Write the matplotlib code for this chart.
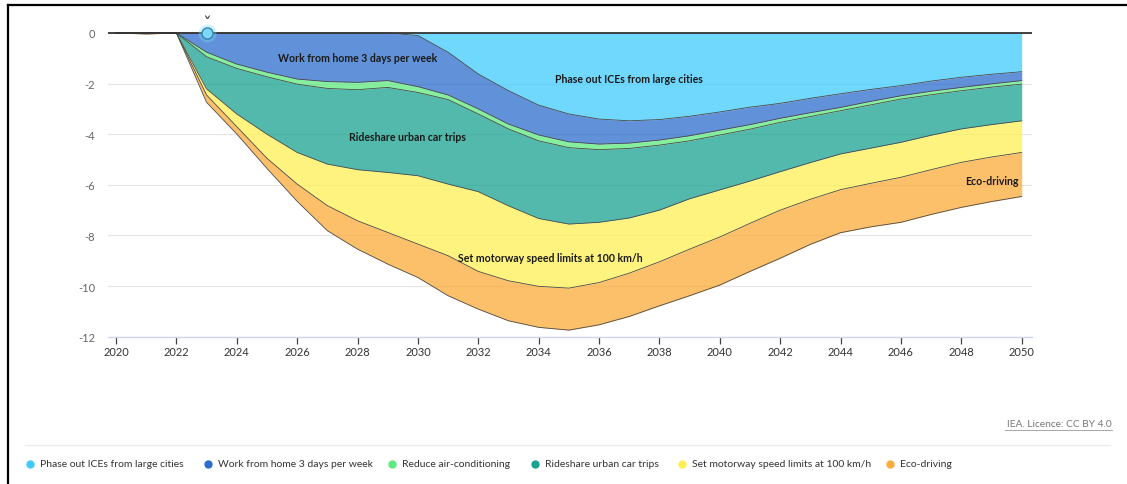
import numpy as np
import matplotlib
matplotlib.use("Agg")
import matplotlib.pyplot as plt
from matplotlib.lines import Line2D

plt.rcParams["font.family"] = ["Lato", "DejaVu Sans"]

# ── data ──────────────────────────────────────────────────────────────────────
YEARS = list(range(2020, 2051))

ICE = [0, 0, 0, 0, 0, 0, 0, 0, 0, 0,
       -0.10, -0.76, -1.62, -2.28, -2.85, -3.20, -3.40, -3.47, -3.42, -3.29,
       -3.12, -2.93, -2.78, -2.58, -2.40, -2.23, -2.08, -1.90, -1.75, -1.63, -1.53]
WFH = [0, 0, 0, -0.76, -1.23, -1.55, -1.82, -1.92, -1.95, -1.88,
       -2.02, -1.69, -1.38, -1.32, -1.18, -1.10, -0.99, -0.88, -0.81, -0.77,
       -0.72, -0.69, -0.59, -0.57, -0.54, -0.47, -0.40, -0.40, -0.40, -0.38, -0.35]
AIRCON = [0, 0, 0, -0.18, -0.17, -0.18, -0.20, -0.27, -0.29, -0.27,
          -0.23, -0.18, -0.20, -0.19, -0.23, -0.23, -0.22, -0.21, -0.20, -0.20,
          -0.19, -0.18, -0.16, -0.15, -0.13, -0.14, -0.13, -0.14, -0.13, -0.13, -0.14]
RIDESHARE = [0, 0, 0, -1.27, -1.80, -2.27, -2.70, -2.99, -3.16, -3.36,
             -3.29, -3.34, -3.07, -3.04, -3.07, -3.02, -2.87, -2.75, -2.57, -2.29,
             -2.17, -2.05, -1.95, -1.82, -1.71, -1.71, -1.71, -1.60, -1.51, -1.48, -1.45]
SPEED = [0, 0, 0, -0.24, -0.50, -0.95, -1.25, -1.64, -2.02, -2.37,
         -2.70, -2.83, -3.15, -2.96, -2.68, -2.53, -2.38, -2.18, -2.04, -1.99,
         -1.86, -1.67, -1.52, -1.45, -1.41, -1.39, -1.38, -1.36, -1.32, -1.28, -1.25]
ECO = [0, -0.04, 0, -0.29, -0.29, -0.40, -0.68, -0.99, -1.12, -1.25,
       -1.32, -1.58, -1.49, -1.58, -1.62, -1.66, -1.67, -1.71, -1.74, -1.84,
       -1.90, -1.90, -1.90, -1.78, -1.70, -1.72, -1.78, -1.77, -1.78, -1.76, -1.74]

SERIES = ["Phase out ICEs from large cities", "Work from home 3 days per week",
          "Reduce air-conditioning", "Rideshare urban car trips",
          "Set motorway speed limits at 100 km/h", "Eco-driving"]
COLORS = ["#40CBFD", "#2C6CCC", "#5EEA7E", "#18A290", "#FEF053", "#FCAB38"]

# in-chart labels: (series index, year, value)
AREA_LABELS = [(1, 2028.0, -0.95), (0, 2037.0, -1.78), (3, 2029.67, -4.07),
               (4, 2034.38, -8.87), (5, 2049.0, -5.81)]

Y_TICKS = [0, -2, -4, -6, -8, -10, -12]
X_TICKS = list(range(2020, 2051, 2))

# ── figure ────────────────────────────────────────────────────────────────────
W, H = 1127, 485
fig = plt.figure(figsize=(W / 100, H / 100), dpi=100)
ax = fig.add_axes([108 / W, 0.3037, 924 / W, 0.6523])

years = np.array(YEARS)
stack = np.vstack([ICE, WFH, AIRCON, RIDESHARE, SPEED, ECO])
tops = np.vstack([np.zeros(len(YEARS)), np.cumsum(stack, axis=0)[:-1]])
bottoms = np.cumsum(stack, axis=0)

for i in range(len(SERIES)):
    ax.fill_between(years, tops[i], bottoms[i], color=COLORS[i], alpha=0.75,
                    linewidth=0, zorder=2)
    ax.plot(years, bottoms[i], color="#4a4a4a", linewidth=0.6, zorder=3)

ax.axhline(0, color="#333333", linewidth=1.3, zorder=4)

for idx, x, y in AREA_LABELS:
    ax.text(x, y, SERIES[idx], ha="center", va="center", fontsize=7.6,
            fontweight="bold", color="#1a1a1a", zorder=5)

# hover marker at 2023
hx = YEARS.index(2023)
ax.plot([YEARS[hx]], [ICE[hx]], "o", ms=13, color="#7fd6f5", alpha=0.35,
        zorder=5, clip_on=False, markeredgewidth=0)
ax.plot([YEARS[hx]], [ICE[hx]], "o", ms=8, markerfacecolor="#7fd6f5",
        markeredgecolor="#2a86b8", markeredgewidth=1.0, zorder=6, clip_on=False)
ax.text(YEARS[hx], 0.36, "ˇ", ha="center", va="center", fontsize=13,
        color="#444444", family="DejaVu Sans", zorder=6, clip_on=False)

ax.set_xlim(2019.735, 2050.341)
ax.set_ylim(-12, 0.5)
ax.set_yticks(Y_TICKS)
ax.set_yticklabels([str(v) for v in Y_TICKS])
ax.set_xticks(X_TICKS)
ax.set_xticklabels([str(v) for v in X_TICKS])

for s in ["top", "right", "left"]:
    ax.spines[s].set_visible(False)
ax.spines["bottom"].set_color("#ccd6eb")
ax.spines["bottom"].set_linewidth(1.0)

ax.tick_params(axis="y", length=0, pad=9.4, labelsize=8, labelcolor="#666666")
ax.tick_params(axis="x", length=5, width=0.9, color="#444444", pad=1.5,
               labelsize=8, labelcolor="#333333")
ax.grid(axis="y", color="#e6e6e6", linewidth=0.8, zorder=0)
ax.set_axisbelow(True)

# ── legend row ────────────────────────────────────────────────────────────────
legend_x = [30, 208, 392, 535, 682, 890]
ly = 1 - 465 / H
for i, name in enumerate(SERIES):
    fig.add_artist(Line2D([legend_x[i] / W], [ly], marker="o", ms=5,
                          markerfacecolor=COLORS[i], markeredgecolor=COLORS[i],
                          transform=fig.transFigure))
    fig.text((legend_x[i] + 10) / W, ly, name, ha="left", va="center",
             fontsize=7.5, color="#333333")

fig.add_artist(Line2D([25 / W, 1110 / W], [1 - 446 / H] * 2, color="#ececec",
                      linewidth=1.0, transform=fig.transFigure))
fig.text(1112 / W, 1 - 425 / H, "IEA. Licence: CC BY 4.0", ha="right",
         va="center", fontsize=7.3, color="#777777")
fig.add_artist(Line2D([1005 / W, 1112 / W], [1 - 431 / H] * 2, color="#999999",
                      linewidth=0.6, transform=fig.transFigure))

# frame of the screenshot
fig.add_artist(Line2D([8 / W, 1.0], [1 - 6 / H] * 2, color="black",
                      linewidth=1.6, transform=fig.transFigure))
fig.add_artist(Line2D([8 / W, 8 / W], [0, 1 - 6 / H], color="black",
                      linewidth=1.6, transform=fig.transFigure))

fig.savefig("out.png", dpi=100)
